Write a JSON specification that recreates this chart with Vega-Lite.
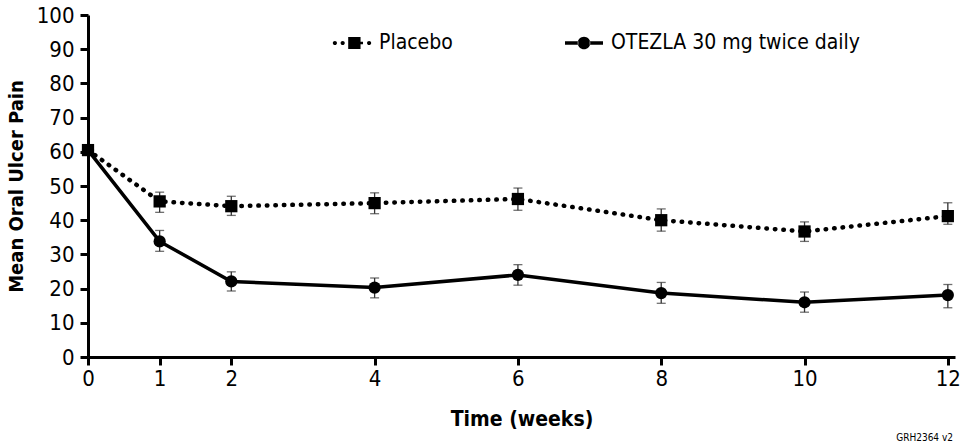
{
  "$schema": "https://vega.github.io/schema/vega-lite/v6.json",
  "width": 867,
  "height": 342,
  "autosize": {"type": "none"},
  "padding": {"left": 88, "top": 15, "right": 6, "bottom": 91},
  "background": "white",
  "config": {
    "font": "Liberation Sans Narrow, Arial Narrow, DejaVu Sans Condensed, sans-serif",
    "view": {"stroke": null},
    "axis": {"labelColor": "black", "titleColor": "black", "domainColor": "black", "tickColor": "black", "grid": false}
  },
  "title": {"text": "GRH2364 v2", "orient": "bottom", "anchor": "end", "frame": "group", "fontSize": 10, "fontWeight": "normal", "color": "black", "offset": 4, "dx": -2},
  "data": {
    "values": [
      {"week": 0, "series": "OTEZLA 30 mg twice daily", "mean": 60.5, "lo": null, "hi": null},
      {"week": 1, "series": "OTEZLA 30 mg twice daily", "mean": 33.8, "lo": 30.9, "hi": 37.0},
      {"week": 2, "series": "OTEZLA 30 mg twice daily", "mean": 22.1, "lo": 19.3, "hi": 24.9},
      {"week": 4, "series": "OTEZLA 30 mg twice daily", "mean": 20.3, "lo": 17.3, "hi": 23.1},
      {"week": 6, "series": "OTEZLA 30 mg twice daily", "mean": 24.0, "lo": 21.0, "hi": 27.0},
      {"week": 8, "series": "OTEZLA 30 mg twice daily", "mean": 18.7, "lo": 15.7, "hi": 21.8},
      {"week": 10, "series": "OTEZLA 30 mg twice daily", "mean": 16.0, "lo": 13.1, "hi": 19.0},
      {"week": 12, "series": "OTEZLA 30 mg twice daily", "mean": 18.1, "lo": 14.4, "hi": 21.2},
      {"week": 0, "series": "Placebo", "mean": 60.5, "lo": null, "hi": null},
      {"week": 1, "series": "Placebo", "mean": 45.5, "lo": 42.3, "hi": 48.2},
      {"week": 2, "series": "Placebo", "mean": 44.1, "lo": 41.4, "hi": 47.0},
      {"week": 4, "series": "Placebo", "mean": 45.0, "lo": 41.9, "hi": 48.0},
      {"week": 6, "series": "Placebo", "mean": 46.2, "lo": 42.9, "hi": 49.4},
      {"week": 8, "series": "Placebo", "mean": 40.0, "lo": 36.8, "hi": 43.3},
      {"week": 10, "series": "Placebo", "mean": 36.7, "lo": 33.8, "hi": 39.5},
      {"week": 12, "series": "Placebo", "mean": 41.2, "lo": 38.8, "hi": 45.1}
    ]
  },
  "encoding": {
    "x": {
      "field": "week", "type": "quantitative",
      "scale": {"domain": [0, 12.1], "nice": false, "zero": false},
      "axis": {
        "values": [0, 1, 2, 4, 6, 8, 10, 12],
        "title": "Time (weeks)",
        "domainWidth": 3, "tickWidth": 3, "tickSize": 8,
        "labelFontSize": 22, "labelPadding": 3, "labelFlush": false, "labelOverlap": false,
        "titleFontSize": 21, "titleFontWeight": "bold", "titlePadding": 19
      }
    },
    "y": {
      "field": "mean", "type": "quantitative",
      "scale": {"domain": [0, 100], "nice": false},
      "axis": {
        "values": [0, 10, 20, 30, 40, 50, 60, 70, 80, 90, 100],
        "title": "Mean Oral Ulcer Pain",
        "domainWidth": 3, "tickWidth": 3, "tickSize": 8,
        "labelFontSize": 22, "labelPadding": 6, "labelFlush": false, "labelOverlap": false,
        "titleFontSize": 20, "titleFontWeight": "bold", "titlePadding": 10
      }
    }
  },
  "resolve": {"scale": {"shape": "independent"}},
  "layer": [
    {
      "transform": [{"filter": "datum.lo != null"}],
      "mark": {"type": "errorbar", "color": "#333333", "thickness": 1.3, "ticks": {"size": 9, "thickness": 1.3, "color": "#333333"}},
      "encoding": {
        "y": {"field": "lo", "type": "quantitative"},
        "y2": {"field": "hi"}
      }
    },
    {
      "transform": [{"filter": "datum.series == 'OTEZLA 30 mg twice daily'"}],
      "mark": {"type": "line", "color": "black", "strokeWidth": 3.5},
      "encoding": {}
    },
    {
      "transform": [{"filter": "datum.series == 'Placebo'"}],
      "mark": {"type": "line", "color": "black", "strokeWidth": 4.5, "strokeDash": [0.5, 8], "strokeCap": "round"},
      "encoding": {}
    },
    {
      "mark": {"type": "point", "filled": true, "color": "black", "opacity": 1, "size": 150},
      "encoding": {
        "shape": {
          "field": "series", "type": "nominal",
          "scale": {"domain": ["Placebo", "OTEZLA 30 mg twice daily"], "range": ["square", "circle"]},
          "legend": null
        }
      }
    },
    {
      "mark": {"type": "point", "filled": true, "color": "black", "opacity": 0, "size": 1444},
      "encoding": {
        "shape": {
          "field": "series", "type": "nominal",
          "scale": {
            "domain": ["Placebo", "OTEZLA 30 mg twice daily"],
            "range": [
              "M-1.01,0 a0.11,0.11 0 1,0 0.22,0 a0.11,0.11 0 1,0 -0.22,0 Z M-0.6,0 a0.11,0.11 0 1,0 0.22,0 a0.11,0.11 0 1,0 -0.22,0 Z M-0.2,-0.31 H0.45 V0.31 H-0.2 Z M0.45,-0.06 H0.58 V0.06 H0.45 Z M0.79,0 a0.11,0.11 0 1,0 0.22,0 a0.11,0.11 0 1,0 -0.22,0 Z",
              "M-1,-0.09 H-0.3 V0.09 H-1 Z M0.3,-0.09 H1 V0.09 H0.3 Z M-0.33,0 a0.33,0.33 0 1,0 0.66,0 a0.33,0.33 0 1,0 -0.66,0 Z"
            ]
          },
          "legend": {
            "orient": "none", "legendX": 245, "legendY": 9,
            "direction": "horizontal", "title": null,
            "symbolSize": 1444, "symbolStrokeWidth": 0, "symbolOpacity": 1,
            "symbolFillColor": "black",
            "labelFontSize": 21, "labelColor": "black", "labelOffset": 8, "labelLimit": 400,
            "columnPadding": 112
          }
        }
      }
    }
  ]
}
